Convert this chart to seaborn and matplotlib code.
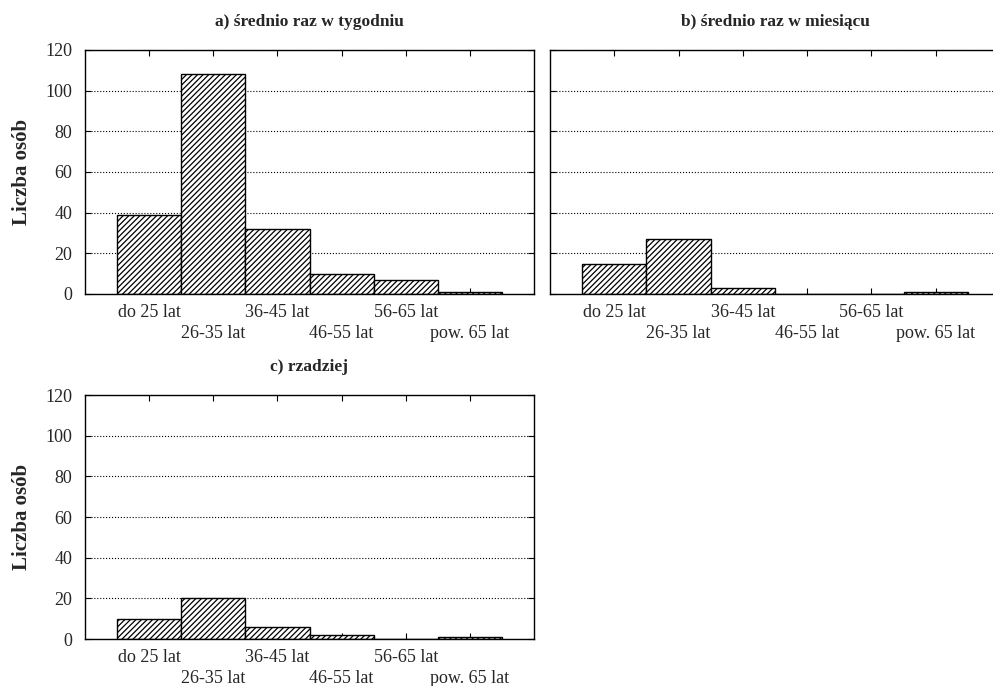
import matplotlib
matplotlib.use('Agg')
import matplotlib.pyplot as plt
import seaborn as sns
import pandas as pd

age_groups = ['do 25 lat', '26-35 lat', '36-45 lat', '46-55 lat', '56-65 lat', 'pow. 65 lat']
weekly = [39, 108, 32, 10, 7, 1]
monthly = [15, 27, 3, 0, 0, 1]
rarely = [10, 20, 6, 2, 0, 1]
titles = ['a) średnio raz w tygodniu', 'b) średnio raz w miesiącu', 'c) rzadziej']
y_ticks = [0, 20, 40, 60, 80, 100, 120]

sns.set_style('white')
plt.rcParams['font.family'] = ['Liberation Serif', 'DejaVu Serif']
plt.rcParams['hatch.linewidth'] = 0.9

fig = plt.figure(figsize=(9.93, 6.86), dpi=100)
boxes = [
    [85 / 993, 1 - 294 / 686, 449 / 993, 244 / 686],
    [550 / 993, 1 - 294 / 686, 450 / 993, 244 / 686],
    [85 / 993, 1 - 639 / 686, 449 / 993, 244 / 686],
]

for i, (vals, title, box) in enumerate(zip([weekly, monthly, rarely], titles, boxes)):
    ax = fig.add_axes(box)
    df = pd.DataFrame({'wiek': age_groups, 'n': vals})
    sns.barplot(data=df, x='wiek', y='n', order=age_groups, color='white',
                edgecolor='black', linewidth=1, width=1, saturation=1, ax=ax)
    for p in ax.patches:
        p.set_hatch('//////')
    ax.set_xlim(-1, 6)
    ax.set_ylim(0, 120)
    ax.set_yticks(y_ticks)
    # staggered labels: even ones on the first row, odd ones one row lower
    ax.set_xticks([0, 2, 4], age_groups[0::2])
    ax.set_xticks([1, 3, 5], age_groups[1::2], minor=True)
    ax.yaxis.grid(True, linestyle=':', color='black', linewidth=0.8)
    ax.set_axisbelow(True)
    ax.tick_params(which='both', direction='in', length=4, width=0.8, top=True, right=True,
                   bottom=True, left=True, color='black', labelsize=13)
    ax.tick_params(axis='x', which='major', pad=7)
    ax.tick_params(axis='x', which='minor', pad=22)
    ax.tick_params(axis='y', pad=9)
    for s in ax.spines.values():
        s.set_visible(True)
        s.set_color('black')
        s.set_linewidth(1)
    ax.set_xlabel('')
    if i == 1:
        ax.set_ylabel('')
        ax.set_yticklabels([])
    else:
        ax.set_ylabel('Liczba osób', fontsize=15, fontweight='bold', labelpad=10)
    ax.set_title(title, fontsize=12.5, fontweight='bold', pad=17)

fig.savefig('out.png', dpi=100)
